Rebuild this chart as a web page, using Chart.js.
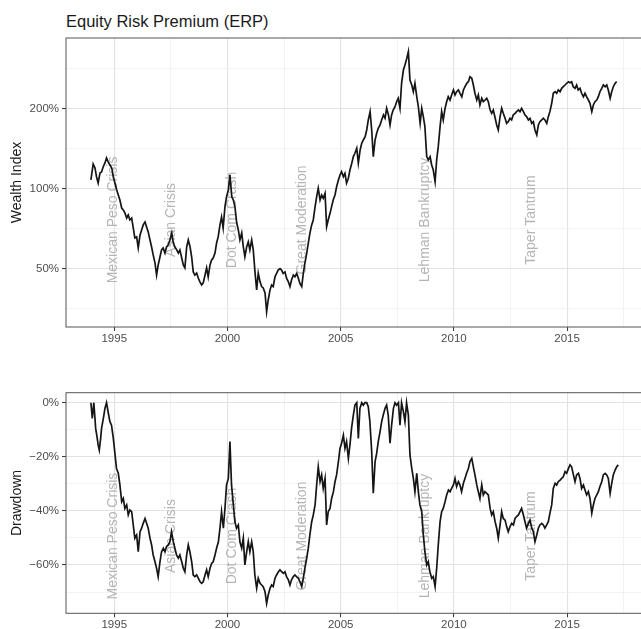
<!DOCTYPE html>
<html lang="en">
<head>
  <meta charset="UTF-8">
  <title>Equity Risk Premium (ERP)</title>
  <script src="https://cdn.jsdelivr.net/npm/chart.js"></script>
  <style>
    html, body {
      margin: 0;
      padding: 0;
      background: #fff;
      width: 641px;
      height: 629px;
      overflow: hidden;
    }

    #chartTitle {
      position: absolute;
      left: 66px;
      top: 13px;
      font-family: 'Liberation Sans', Arial, Helvetica, sans-serif;
      font-size: 16.5px;
      line-height: 1;
      color: #1a1a1a;
      white-space: nowrap;
    }

    canvas {
      position: absolute;
      left: 0;
    }

    #wealthChart { top: 0; }
    #drawdownChart { top: 350px; }
  </style>
</head>
<body>

<div id="chartTitle">Equity Risk Premium (ERP)</div>
<canvas id="wealthChart" width="645" height="350"></canvas>
<canvas id="drawdownChart" width="645" height="290"></canvas>

<script>
  // ---- data ----
  var wealthYears = [
    1993.97,1994.07,1994.15,1994.22,1994.29,1994.37,1994.44,1994.51,1994.59,1994.66,
    1994.73,1994.81,1994.89,1994.96,1995.03,1995.11,1995.18,1995.25,1995.33,1995.40,
    1995.47,1995.55,1995.62,1995.69,1995.77,1995.84,1995.91,1995.99,1996.06,1996.14,
    1996.21,1996.28,1996.36,1996.43,1996.50,1996.58,1996.65,1996.72,1996.80,1996.87,
    1996.94,1997.02,1997.09,1997.16,1997.24,1997.31,1997.39,1997.46,1997.54,1997.61,
    1997.68,1997.76,1997.83,1997.90,1997.98,1998.05,1998.12,1998.20,1998.27,1998.35,
    1998.42,1998.49,1998.56,1998.64,1998.71,1998.79,1998.86,1998.93,1999.01,1999.08,
    1999.15,1999.23,1999.30,1999.37,1999.45,1999.52,1999.59,1999.67,1999.74,1999.81,
    1999.89,1999.96,2000.04,2000.11,2000.19,2000.26,2000.33,2000.41,2000.48,2000.55,
    2000.63,2000.70,2000.77,2000.85,2000.92,2000.99,2001.07,2001.14,2001.22,2001.29,
    2001.36,2001.44,2001.51,2001.58,2001.66,2001.73,2001.80,2001.88,2001.95,2002.02,
    2002.10,2002.17,2002.24,2002.32,2002.39,2002.46,2002.54,2002.61,2002.69,2002.76,
    2002.83,2002.91,2002.98,2003.06,2003.13,2003.20,2003.28,2003.35,2003.42,2003.50,
    2003.57,2003.64,2003.72,2003.79,2003.86,2003.94,2004.01,2004.09,2004.16,2004.23,
    2004.31,2004.38,2004.45,2004.53,2004.60,2004.67,2004.75,2004.82,2004.90,2004.97,
    2005.04,2005.12,2005.19,2005.26,2005.34,2005.41,2005.49,2005.56,2005.63,2005.71,
    2005.78,2005.86,2005.93,2006.00,2006.08,2006.15,2006.22,2006.30,2006.37,2006.44,
    2006.52,2006.59,2006.66,2006.74,2006.81,2006.89,2006.96,2007.03,2007.11,2007.18,
    2007.25,2007.32,2007.40,2007.47,2007.54,2007.62,2007.69,2007.77,2007.84,2007.92,
    2007.99,2008.06,2008.14,2008.21,2008.28,2008.36,2008.43,2008.51,2008.58,2008.65,
    2008.72,2008.80,2008.87,2008.95,2009.02,2009.09,2009.17,2009.24,2009.31,2009.39,
    2009.46,2009.53,2009.61,2009.68,2009.75,2009.83,2009.90,2009.98,2010.05,2010.12,
    2010.20,2010.27,2010.35,2010.42,2010.49,2010.57,2010.64,2010.71,2010.79,2010.86,
    2010.93,2011.01,2011.08,2011.15,2011.23,2011.30,2011.38,
    2011.45,2011.52,2011.60,2011.67,2011.74,2011.82,2011.89,2011.96,2012.04,2012.11,
    2012.18,2012.26,2012.33,2012.40,2012.48,2012.55,2012.62,2012.70,2012.77,2012.85,
    2012.92,2012.99,2013.07,2013.14,2013.21,2013.29,2013.36,2013.44,2013.51,2013.58,
    2013.66,2013.73,2013.80,2013.88,2013.95,2014.02,2014.10,2014.17,2014.24,2014.32,
    2014.39,2014.47,2014.54,2014.61,2014.69,2014.76,2014.83,2014.91,2014.98,2015.06,
    2015.13,2015.20,2015.27,2015.35,2015.42,2015.49,2015.57,2015.64,2015.72,2015.79,
    2015.86,2015.94,2016.01,2016.09,2016.16,2016.23,2016.31,2016.38,2016.45,2016.53,
    2016.60,2016.68,2016.75,2016.82,2016.90,2016.97,2017.04,2017.12,2017.19
  ];
  var wealthValues = [
    1.078,1.238,1.196,1.106,1.050,1.145,1.155,1.206,1.249,1.304,
    1.260,1.227,1.196,1.106,1.050,0.989,0.947,0.907,0.846,0.832,
    0.811,0.776,0.797,0.763,0.776,0.712,0.653,0.659,0.599,0.670,
    0.700,0.731,0.750,0.718,0.688,0.642,0.604,0.564,0.526,0.474,
    0.517,0.554,0.589,0.599,0.573,0.604,0.615,0.642,0.682,0.625,
    0.604,0.589,0.573,0.589,0.549,0.517,0.504,0.604,0.642,0.604,
    0.554,0.487,0.474,0.482,0.462,0.446,0.435,0.443,0.474,0.504,
    0.466,0.517,0.540,0.549,0.573,0.625,0.659,0.731,0.783,0.712,
    0.856,0.933,0.989,1.126,0.933,0.907,0.856,0.743,0.700,0.642,
    0.682,0.606,0.556,0.606,0.632,0.589,0.642,0.589,0.482,0.417,
    0.482,0.447,0.429,0.424,0.406,0.345,0.382,0.417,0.435,0.429,
    0.467,0.481,0.495,0.501,0.495,0.481,0.487,0.461,0.447,0.429,
    0.454,0.474,0.467,0.481,0.461,0.441,0.429,0.481,0.525,0.572,
    0.624,0.680,0.731,0.763,0.844,0.933,1.003,0.907,0.947,0.920,
    0.961,0.720,0.763,0.808,0.856,0.907,0.947,1.017,1.078,1.126,
    1.158,1.109,1.142,1.048,1.094,1.175,1.246,1.319,1.358,1.418,
    1.246,1.397,1.480,1.523,1.567,1.661,1.811,1.946,1.661,1.319,
    1.523,1.614,1.686,1.734,1.811,1.891,1.838,2.003,1.891,1.734,
    1.891,1.974,2.031,2.121,2.184,2.003,2.487,2.789,2.912,3.086,
    3.268,2.558,2.450,2.312,2.487,2.214,2.031,1.759,2.003,1.864,
    1.709,1.319,1.282,1.319,1.227,1.175,1.062,1.282,1.438,1.709,
    1.946,1.811,2.003,2.121,2.214,2.152,2.247,2.347,2.247,2.312,
    2.347,2.281,2.214,2.347,2.414,2.487,2.521,2.633,2.597,2.450,
    2.281,2.152,2.247,2.062,2.184,2.121,2.152,
    2.184,2.121,1.974,1.918,1.974,1.845,1.734,1.661,1.864,2.003,
    1.919,1.838,1.759,1.784,1.838,1.811,1.891,1.918,1.946,1.974,
    1.946,2.003,1.946,1.891,1.864,1.811,1.838,1.759,1.784,1.661,
    1.591,1.734,1.784,1.811,1.838,1.811,1.759,1.864,1.946,2.092,
    2.281,2.312,2.281,2.347,2.312,2.381,2.414,2.450,2.487,2.521,
    2.500,2.521,2.414,2.381,2.450,2.347,2.381,2.281,2.214,2.281,
    2.214,2.152,2.092,1.946,2.062,2.121,2.152,2.214,2.312,2.381,
    2.450,2.414,2.450,2.347,2.184,2.312,2.414,2.487,2.521
  ];

  var drawdownYears = [
    1993.97,1994.03,1994.10,1994.18,1994.24,1994.29,1994.34,1994.40,1994.44,1994.52,
    1994.59,1994.66,1994.74,1994.81,1994.88,1994.96,1995.03,1995.10,1995.18,1995.25,
    1995.33,1995.40,1995.47,1995.55,1995.62,1995.69,1995.77,1995.84,1995.91,1995.99,
    1996.06,1996.14,1996.21,1996.28,1996.36,1996.43,1996.50,1996.58,1996.65,1996.72,
    1996.80,1996.87,1996.94,1997.02,1997.09,1997.17,1997.24,1997.31,1997.39,1997.46,
    1997.53,1997.61,1997.68,1997.75,1997.83,1997.90,1997.98,1998.05,1998.12,1998.20,
    1998.27,1998.34,1998.42,1998.49,1998.56,1998.64,1998.71,1998.79,1998.86,1998.93,
    1999.01,1999.08,1999.15,1999.23,1999.30,1999.37,1999.45,1999.52,1999.60,1999.67,
    1999.74,1999.82,
    1999.89,1999.96,2000.04,2000.11,2000.18,2000.26,2000.33,2000.40,2000.48,2000.55,
    2000.63,2000.70,2000.77,2000.85,2000.92,2000.99,2001.07,2001.14,2001.21,2001.29,
    2001.36,2001.44,2001.51,2001.58,2001.66,2001.73,2001.80,2001.88,2001.95,2002.02,
    2002.10,2002.17,2002.25,2002.32,2002.39,2002.47,2002.54,2002.61,2002.69,2002.76,
    2002.83,2002.91,2002.98,2003.05,2003.13,2003.20,2003.28,2003.35,2003.42,2003.50,
    2003.57,2003.64,2003.72,2003.79,2003.87,2003.94,2004.01,2004.09,2004.16,2004.23,
    2004.31,2004.38,2004.45,2004.53,2004.60,2004.68,2004.75,2004.82,2004.90,2004.97,
    2005.04,2005.12,2005.19,2005.26,2005.34,2005.41,2005.48,2005.56,2005.63,2005.71,
    2005.78,2005.85,2005.93,2006.00,2006.07,2006.15,2006.22,2006.29,2006.37,2006.44,
    2006.52,2006.59,2006.66,2006.74,2006.81,2006.88,2006.96,2007.03,2007.10,2007.18,
    2007.25,2007.33,2007.40,2007.47,2007.55,2007.62,2007.69,2007.77,2007.84,2007.91,
    2007.99,2008.06,2008.13,2008.21,2008.28,2008.36,2008.43,2008.50,2008.58,2008.65,
    2008.72,2008.80,2008.87,2008.94,2009.02,2009.09,2009.17,2009.24,2009.31,2009.39,
    2009.46,2009.53,2009.61,2009.68,2009.76,2009.83,2009.90,2009.98,2010.05,2010.12,
    2010.20,2010.27,2010.34,2010.42,2010.49,2010.56,2010.64,2010.71,2010.79,2010.86,
    2010.93,2011.01,2011.08,2011.15,2011.23,2011.30,2011.37,
    2011.45,2011.52,2011.60,2011.67,2011.74,2011.82,2011.89,2011.96,2012.04,2012.11,
    2012.18,2012.26,2012.33,2012.40,2012.48,2012.55,2012.63,2012.70,2012.77,2012.85,
    2012.92,2012.99,2013.07,2013.14,2013.21,2013.29,2013.36,2013.44,2013.51,2013.58,
    2013.66,2013.73,2013.80,2013.88,2013.95,2014.02,2014.10,2014.17,2014.24,2014.32,
    2014.39,2014.47,2014.54,2014.61,2014.69,2014.76,2014.83,2014.91,2014.98,2015.06,
    2015.13,2015.20,2015.28,2015.35,2015.42,2015.50,2015.57,2015.64,2015.72,2015.79,
    2015.86,2015.94,2016.01,2016.09,2016.16,2016.23,2016.31,2016.38,2016.45,2016.53,
    2016.60,2016.68,2016.75,2016.82,2016.90,2016.97,2017.04,2017.12,2017.19,2017.26
  ];
  var drawdownValues = [
    0,-0.058,0,-0.095,-0.126,-0.156,-0.175,-0.132,-0.095,-0.058,
    -0.021,0,-0.039,-0.070,-0.083,-0.132,-0.187,-0.243,-0.261,-0.304,
    -0.366,-0.354,-0.391,-0.378,-0.415,-0.397,-0.403,-0.452,-0.501,-0.489,
    -0.551,-0.477,-0.464,-0.446,-0.428,-0.446,-0.464,-0.501,-0.526,-0.563,
    -0.588,-0.612,-0.643,-0.588,-0.551,-0.538,-0.551,-0.532,-0.526,-0.514,
    -0.477,-0.514,-0.538,-0.563,-0.575,-0.563,-0.588,-0.612,-0.625,-0.563,
    -0.526,-0.551,-0.588,-0.637,-0.643,-0.637,-0.649,-0.662,-0.668,-0.662,
    -0.637,-0.618,-0.643,-0.612,-0.594,-0.588,-0.563,-0.538,-0.514,-0.464,
    -0.403,-0.464,
    -0.391,-0.304,-0.280,-0.144,-0.304,-0.378,-0.440,-0.464,-0.452,-0.514,
    -0.538,-0.501,-0.600,-0.551,-0.514,-0.551,-0.514,-0.551,-0.637,-0.686,
    -0.649,-0.668,-0.674,-0.680,-0.699,-0.742,-0.711,-0.686,-0.674,-0.680,
    -0.649,-0.637,-0.625,-0.618,-0.625,-0.631,-0.625,-0.643,-0.655,-0.674,
    -0.655,-0.643,-0.637,-0.643,-0.649,-0.662,-0.680,-0.649,-0.612,-0.575,
    -0.538,-0.489,-0.440,-0.415,-0.378,-0.304,-0.237,-0.292,-0.267,-0.317,
    -0.280,-0.452,-0.403,-0.391,-0.354,-0.329,-0.292,-0.267,-0.218,-0.169,
    -0.150,-0.120,-0.169,-0.144,-0.206,-0.156,-0.095,-0.046,-0.009,0,
    -0.132,-0.021,0,-0.009,0,0,-0.015,-0.070,-0.181,-0.335,
    -0.218,-0.187,-0.144,-0.107,-0.070,-0.046,-0.021,-0.009,-0.046,-0.150,
    -0.083,-0.021,0,-0.009,0,-0.083,0,-0.033,-0.070,0,
    -0.046,-0.193,-0.237,-0.280,-0.329,-0.261,-0.329,-0.378,-0.403,-0.489,
    -0.551,-0.600,-0.588,-0.625,-0.649,-0.643,-0.680,-0.612,-0.526,-0.440,
    -0.403,-0.391,-0.366,-0.341,-0.323,-0.329,-0.317,-0.304,-0.280,-0.310,
    -0.292,-0.304,-0.329,-0.298,-0.280,-0.261,-0.243,-0.218,-0.206,-0.237,
    -0.267,-0.304,-0.329,-0.354,-0.304,-0.341,-0.329,
    -0.335,-0.341,-0.391,-0.415,-0.403,-0.440,-0.464,-0.501,-0.452,-0.403,
    -0.428,-0.434,-0.458,-0.477,-0.458,-0.446,-0.452,-0.428,-0.421,-0.415,
    -0.403,-0.391,-0.415,-0.440,-0.464,-0.446,-0.434,-0.464,-0.477,-0.514,
    -0.489,-0.464,-0.452,-0.446,-0.452,-0.464,-0.452,-0.440,-0.409,-0.378,
    -0.317,-0.298,-0.304,-0.292,-0.286,-0.280,-0.274,-0.255,-0.261,-0.243,
    -0.230,-0.237,-0.267,-0.292,-0.267,-0.261,-0.280,-0.317,-0.304,-0.323,
    -0.341,-0.329,-0.354,-0.409,-0.378,-0.354,-0.341,-0.329,-0.310,-0.292,
    -0.267,-0.261,-0.267,-0.280,-0.335,-0.298,-0.267,-0.249,-0.237,-0.230
  ];

  var eventLabels = ['Mexican Peso Crisis', 'Asian Crisis', 'Dot Com Crash', 'Great Moderation', 'Lehman Bankruptcy', 'Taper Tantrum'];
  var eventDates = [1994.97, 1997.50, 2000.22, 2003.28, 2008.71, 2013.39];

  var xMajorTicks = [1995, 2000, 2005, 2010, 2015];
  var xMinorTicks = [1997.5, 2002.5, 2007.5, 2012.5, 2017.5];
  var wealthMajorTicks = [0.5, 1, 2];
  var wealthMinorTicks = [0.3536, 0.7071, 1.4142, 2.8284];
  var drawdownMajorTicks = [-0.6, -0.4, -0.2, 0];
  var drawdownMinorTicks = [-0.7, -0.5, -0.3, -0.1];

  // ---- layout ----
  var FONT = "'Liberation Sans', Arial, Helvetica, sans-serif";
  Chart.defaults.font.family = FONT;

  var X_MIN = 1992.87, X_MAX = 2018.44;

  function allTicks(major, minor) {
    return major.concat(minor).sort(function (a, b) { return a - b; }).map(function (v) { return { value: v }; });
  }

  function gridFor(major) {
    function isMajor(c) { return c.tick && major.indexOf(c.tick.value) !== -1; }
    return {
      color: function (c) { return isMajor(c) ? '#e2e2e2' : '#eeeeee'; },
      lineWidth: function (c) { return isMajor(c) ? 1.1 : 0.7; },
      tickColor: function (c) { return isMajor(c) ? '#333333' : 'rgba(0,0,0,0)'; },
      tickLength: 4,
      tickWidth: 1
    };
  }

  function pct(v) {
    var n = Math.round(Math.abs(v) * 100);
    return (v < -1e-9 ? '\u2212' : '') + n + '%';
  }

  // annotation text under the line, border on top
  var panelDecor = {
    id: 'panelDecor',
    beforeDatasetsDraw: function (chart, args, opts) {
      var ctx = chart.ctx, xs = chart.scales.x, ys = chart.scales.y;
      ctx.save();
      ctx.fillStyle = '#b5b5b5';
      ctx.font = '14px ' + FONT;
      ctx.textAlign = 'center';
      ctx.textBaseline = 'middle';
      eventLabels.forEach(function (label, i) {
        ctx.save();
        ctx.translate(xs.getPixelForValue(eventDates[i]), ys.getPixelForValue(opts.labelY));
        ctx.rotate(-Math.PI / 2);
        ctx.fillText(label, 0, 0);
        ctx.restore();
      });
      ctx.restore();
    },
    afterDraw: function (chart) {
      var ctx = chart.ctx, a = chart.chartArea;
      ctx.save();
      ctx.strokeStyle = '#555555';
      ctx.lineWidth = 1;
      ctx.strokeRect(a.left, a.top, a.right - a.left, a.bottom - a.top);
      ctx.restore();
    }
  };

  function makePanel(id, years, values, cfg) {
    return new Chart(document.getElementById(id), {
      type: 'line',
      data: {
        datasets: [{
          data: years.map(function (x, i) { return { x: x, y: values[i] }; }),
          borderColor: '#151515',
          borderWidth: 1.7,
          pointRadius: 0,
          tension: 0,
          fill: false
        }]
      },
      options: {
        responsive: false,
        animation: false,
        events: [],
        layout: { padding: { top: cfg.padTop, left: 0, right: 0, bottom: 0 } },
        plugins: {
          legend: { display: false },
          tooltip: { enabled: false },
          panelDecor: { labelY: cfg.labelY }
        },
        scales: {
          x: {
            type: 'linear',
            bounds: 'data',
            min: X_MIN,
            max: X_MAX,
            afterBuildTicks: function (s) { s.ticks = allTicks(xMajorTicks, xMinorTicks); },
            afterFit: function (s) { s.height = cfg.xHeight; },
            border: { display: false },
            grid: gridFor(xMajorTicks),
            ticks: {
              autoSkip: false,
              maxRotation: 0,
              padding: 1,
              color: '#4d4d4d',
              font: { size: 11.5 },
              callback: function (v) { return xMajorTicks.indexOf(v) !== -1 ? String(v) : ''; }
            }
          },
          y: {
            type: cfg.yType,
            bounds: 'data',
            min: cfg.yMin,
            max: cfg.yMax,
            afterBuildTicks: function (s) { s.ticks = allTicks(cfg.major, cfg.minor); },
            afterFit: function (s) { s.width = 66; },
            border: { display: false },
            grid: gridFor(cfg.major),
            title: {
              display: true,
              text: cfg.yTitle,
              color: '#1a1a1a',
              font: { size: 14 },
              padding: { top: 9, bottom: 0 }
            },
            ticks: {
              autoSkip: false,
              padding: 3,
              color: '#4d4d4d',
              font: { size: 11.5 },
              callback: function (v) { return cfg.major.indexOf(v) !== -1 ? pct(v) : ''; }
            }
          }
        }
      },
      plugins: [panelDecor]
    });
  }

  var wealthChart = makePanel('wealthChart', wealthYears, wealthValues, {
    padTop: 38, xHeight: 23, yType: 'logarithmic', yMin: 0.3025, yMax: 3.678,
    major: wealthMajorTicks, minor: wealthMinorTicks, yTitle: 'Wealth Index', labelY: 0.763
  });

  var drawdownChart = makePanel('drawdownChart', drawdownYears, drawdownValues, {
    padTop: 42.7, xHeight: 26.7, yType: 'linear', yMin: -0.7786, yMax: 0.037,
    major: drawdownMajorTicks, minor: drawdownMinorTicks, yTitle: 'Drawdown', labelY: -0.493
  });
</script>

</body>
</html>
